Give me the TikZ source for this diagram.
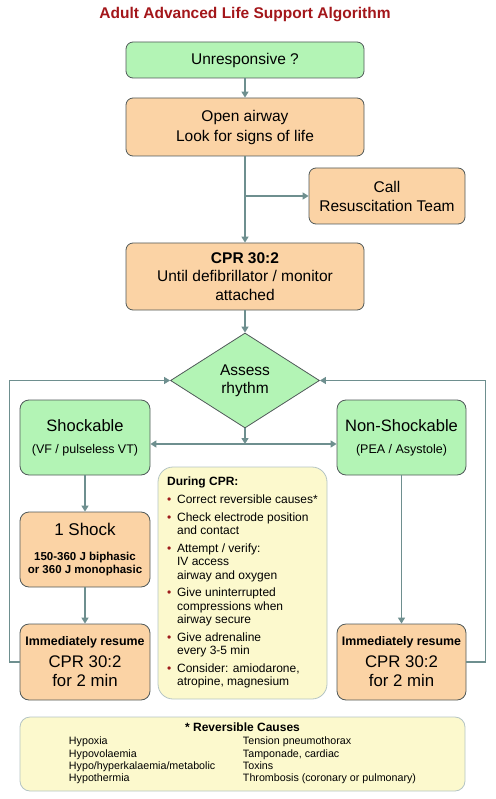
\documentclass[tikz,border=0pt]{standalone}
\usepackage{fontspec}
\setmainfont{Liberation Sans}
\usepackage{tikz}
\usetikzlibrary{shapes.geometric,arrows.meta}
\usepackage{color}
\definecolor{boxgreen}{HTML}{B3F4B5}
\definecolor{boxorange}{HTML}{FBD3A5}
\definecolor{boxyellow}{HTML}{FCF9CD}
\definecolor{boxline}{HTML}{505959}
\definecolor{yellowline}{HTML}{B4C4C4}
\definecolor{flowline}{HTML}{6E8F8F}
\definecolor{titlered}{HTML}{A3161A}
\definecolor{bulletred}{HTML}{9E1B1B}
\newcommand{\cprdot}{\textcolor{bulletred}{\textbullet}}
\newcommand{\smallbold}{\bfseries\fontsize{11.5}{13}\selectfont}

\begin{document}
\begin{tikzpicture}[x=1pt,y=-1pt,
	box/.style={draw=boxline, line width=0.8pt, rounded corners=7pt, align=center, inner sep=0pt},
	greenbox/.style={box, fill=boxgreen},
	orangebox/.style={box, fill=boxorange},
	notebox/.style={box, draw=yellowline, fill=boxyellow},
	bigtext/.style={font=\fontsize{15.5}{19}\selectfont},
	flow/.style={draw=flowline, line width=1.4pt, ->, >={Triangle[length=6pt,width=7pt]}}]
	\useasboundingbox (0,0) rectangle (495,799);
	\node[font=\bfseries\fontsize{15.5}{19}\selectfont, text=titlered] (title) at (245,15) {Adult Advanced Life Support Algorithm};
	\node[greenbox, bigtext, minimum width=238pt, minimum height=36pt] (unresp) at (245,60) {Unresponsive ?};
	\node[orangebox, font=\fontsize{15.5}{20}\selectfont, minimum width=238pt, minimum height=58pt] (airway) at (245,127) {Open airway\\Look for signs of life};
	\node[orangebox, bigtext, minimum width=156pt, minimum height=56pt] (callteam) at (387,196) {Call\\Resuscitation Team};
	\node[orangebox, font=\fontsize{15.5}{18.5}\selectfont, minimum width=238pt, minimum height=67pt] (cpr) at (245,276.5) {\textbf{CPR 30:2}\\Until defibrillator / monitor\\attached};
	\node[greenbox, diamond, sharp corners, font=\fontsize{15.5}{18}\selectfont, minimum width=149pt, minimum height=95pt] (assess) at (245,380.5) {Assess\\rhythm};
	\node[greenbox, rounded corners=9pt, font=\fontsize{16.5}{22}\selectfont, minimum width=130pt, minimum height=75pt] (shock) at (85,437.5) {Shockable\\{\fontsize{12.5}{15}\selectfont (VF / pulseless VT)}};
	\node[greenbox, rounded corners=9pt, font=\fontsize{16.5}{22}\selectfont, minimum width=129pt, minimum height=75pt] (nonshock) at (401.5,437.5) {Non-Shockable\\{\fontsize{12.5}{15}\selectfont (PEA / Asystole)}};
	\node[orangebox, rounded corners=9pt, font=\fontsize{17}{25}\selectfont, minimum width=130pt, minimum height=75pt] (oneshock) at (85,549.5) {1 Shock\\{\smallbold 150-360 J biphasic}\\[-12pt]{\smallbold or 360 J monophasic}};
	\node[orangebox, rounded corners=9pt, font=\fontsize{16.8}{19}\selectfont, minimum width=130pt, minimum height=76pt] (resumeL) at (85,662) {{\bfseries\fontsize{12.4}{15}\selectfont Immediately resume}\\[3pt]CPR 30:2\\for 2 min};
	\node[orangebox, rounded corners=9pt, font=\fontsize{16.8}{19}\selectfont, minimum width=129pt, minimum height=76pt] (resumeR) at (401.5,662) {{\bfseries\fontsize{12.4}{15}\selectfont Immediately resume}\\[3pt]CPR 30:2\\for 2 min};
	\node[notebox, rounded corners=15pt, minimum width=169pt, minimum height=232pt] (during) at (242.5,583) {\fontsize{12}{13.3}\selectfont
		\begin{tabular}{@{}l@{\hspace{5.8pt}}l@{}}
		\multicolumn{2}{@{}l@{}}{\textbf{During CPR:}}\\[4.5pt]
		\cprdot & Correct reversible causes*\\[4.5pt]
		\cprdot & Check electrode position\\
		 & and contact\\[4.5pt]
		\cprdot & Attempt / verify:\\
		 & IV access\\
		 & airway and oxygen\\[4.5pt]
		\cprdot & Give uninterrupted\\
		 & compressions when\\
		 & airway secure\\[4.5pt]
		\cprdot & Give adrenaline\\
		 & every 3-5 min\\[4.5pt]
		\cprdot & Consider: amiodarone,\\
		 & atropine, magnesium
		\end{tabular}};
	\node[notebox, rounded corners=10pt, minimum width=445pt, minimum height=74pt] (causes) at (242.5,754) {\fontsize{10.7}{12.3}\selectfont
		\begin{tabular}{@{}p{174pt}@{}l@{}}
		\multicolumn{2}{@{}c@{}}{\bfseries\fontsize{12}{14}\selectfont * Reversible Causes}\\[1.5pt]
		Hypoxia & Tension pneumothorax\\
		Hypovolaemia & Tamponade, cardiac\\
		Hypo/hyperkalaemia/metabolic & Toxins\\
		Hypothermia & Thrombosis (coronary or pulmonary)
		\end{tabular}};
	\coordinate (split) at (airway.south |- callteam.west);
	\coordinate (fork) at (245,444);
	\draw[flow] (unresp) -- (airway);
	\draw[flow] (airway) -- (cpr);
	\draw[flow] (split) -- (callteam);
	\draw[flow] (cpr) -- (assess);
	\draw[flow] (assess) -- (fork);
	\draw[flow, <->] (fork -| shock.east) -- (fork -| nonshock.west);
	\draw[flow] (shock) -- (oneshock);
	\draw[flow] (oneshock) -- (resumeL);
	\draw[flow] (nonshock) -- (resumeR);
	\draw[flow] (resumeL.west) -- ++(-10,0) |- (assess.west);
	\draw[flow] (resumeR.east) -- ++(19,0) |- (assess.east);
\end{tikzpicture}
\end{document}
